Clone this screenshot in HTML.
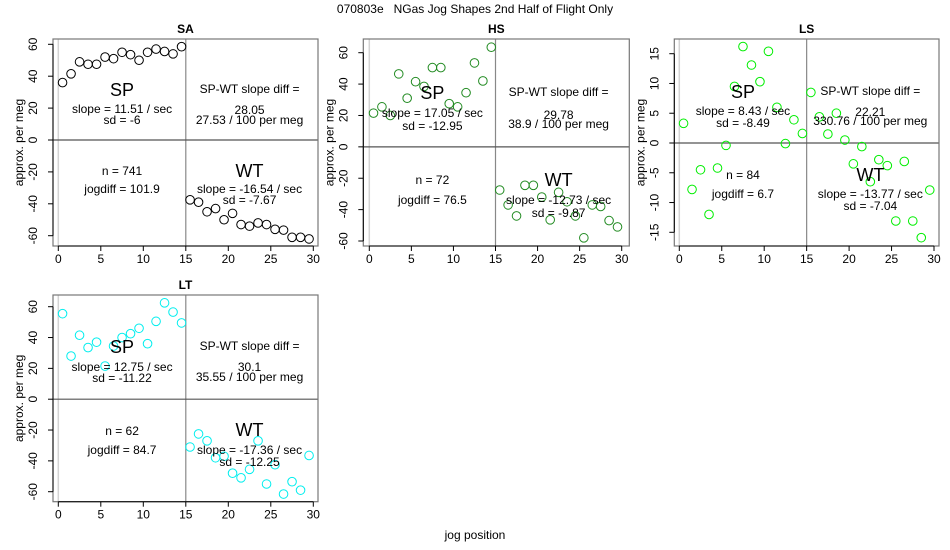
<!DOCTYPE html>
<html><head><meta charset="utf-8"><style>
html,body{margin:0;padding:0;background:#fff;}
svg{display:block;font-family:"Liberation Sans",Arial,sans-serif;}
</style></head><body>
<svg id="chart" width="950" height="550" viewBox="0 0 950 550" xmlns="http://www.w3.org/2000/svg">
<text x="475" y="13" text-anchor="middle" font-size="12" style="white-space:pre">070803e   NGas Jog Shapes 2nd Half of Flight Only</text>
<text x="475" y="539" text-anchor="middle" font-size="12">jog position</text>
</svg>
<script>
const positions = [0.5,1.5,2.5,3.5,4.5,5.5,6.5,7.5,8.5,9.5,10.5,11.5,12.5,13.5,14.5,15.5,16.5,17.5,18.5,19.5,20.5,21.5,22.5,23.5,24.5,25.5,26.5,27.5,28.5,29.5];
const saValues = [36,41.5,49,47.5,47.5,52,51,55,53.5,50,55,57,55.5,54,58.5,-37.5,-39,-45,-43,-50,-46,-53,-54,-52,-53,-56,-56.5,-61,-61,-62];
const hsValues = [21.5,25.5,20,46.5,31,41.5,38.5,50.5,50.5,27.5,25.5,34.5,53.5,42,63.5,-27.5,-37,-44,-24.5,-24.5,-32,-46.5,-29,-35,-44,-58,-37,-38,-47,-51];
const lsValues = [3.3,-7.8,-4.5,-12,-4.2,-0.4,9.5,16.2,13.1,10.3,15.4,6,-0.1,3.9,1.6,8.5,4.4,1.5,5,0.5,-3.5,-0.6,-6.5,-2.8,-3.8,-13.1,-3.1,-13.1,-15.9,-7.9];
const ltValues = [55.5,28,41.5,33.5,37,21.5,34.5,40,42.5,46,36,50.5,62.5,56.5,49.5,-31,-22.5,-27,-38,-37,-48,-51,-45.5,-27,-55,-42.5,-61.5,-53.5,-59,-36.5];
const xTicks = [0,5,10,15,20,25,30];
const bigTicks = [-60,-40,-20,0,20,40,60];
const lsTicks = [-15,-10,-5,0,5,10,15];
const saText = ["slope = 11.51 / sec","sd = -6","28.05","27.53 / 100 per meg","n = 741","jogdiff = 101.9","slope = -16.54 / sec","sd = -7.67"];
const hsText = ["slope = 17.05 / sec","sd = -12.95","29.78","38.9 / 100 per meg","n = 72","jogdiff = 76.5","slope = -12.73 / sec","sd = -9.87"];
const lsText = ["slope = 8.43 / sec","sd = -8.49","22.21","330.76 / 100 per meg","n = 84","jogdiff = 6.7","slope = -13.77 / sec","sd = -7.04"];
const ltText = ["slope = 12.75 / sec","sd = -11.22","30.1","35.55 / 100 per meg","n = 62","jogdiff = 84.7","slope = -17.36 / sec","sd = -12.25"];

const NS="http://www.w3.org/2000/svg";
const svg=document.getElementById('chart');
function mk(tag,attrs,parent){const e=document.createElementNS(NS,tag);for(const k in attrs)e.setAttribute(k,attrs[k]);(parent||svg).appendChild(e);return e;}

const panels=[
 {name:'sa',title:'SA',vals:saValues,txt:saText,color:'#000000',bx:53,bx2:318,by:39,by2:246,x0:58.3,x30:313.3,ticks:bigTicks,tv1:60,tp1:44.3,tv2:-60,tp2:235.7,
  ty:[90,109,120,89,110,120,171,189,171,189,200]},
 {name:'hs',title:'HS',vals:hsValues,txt:hsText,color:'#228B22',bx:363.3,bx2:629.3,by:39,by2:246,x0:369.3,x30:621.7,ticks:bigTicks,tv1:60,tp1:52.7,tv2:-60,tp2:241,
  ty:[93,113,126,92,115,124,180,200,180,200,213]},
 {name:'ls',title:'LS',vals:lsValues,txt:lsText,color:'#00EE00',bx:674.3,bx2:939,by:39,by2:246,x0:679.3,x30:934,ticks:lsTicks,tv1:15,tp1:53.7,tv2:-15,tp2:232.3,
  ty:[92,111,123,91,112,121,175,194,175,194,206]},
 {name:'lt',title:'LT',vals:ltValues,txt:ltText,color:'#00EEEE',bx:53,bx2:318,by:295,by2:501.7,x0:58.3,x30:313.3,ticks:bigTicks,tv1:60,tp1:306.7,tv2:-60,tp2:491.7,
  ty:[347,367,378,346,367,377,431,450,430,450,462]}
];

panels.forEach(p=>{
  const g=mk('g',{});
  
  
  const xs=v=>p.x0+(p.x30-p.x0)*v/30;
  const ys=v=>p.tp1+(p.tp2-p.tp1)*(v-p.tv1)/(p.tv2-p.tv1);
  const t=mk('text',{x:(p.bx+p.bx2)/2,y:p.by-6,'text-anchor':'middle','font-size':12,'font-weight':'bold'},g);
  t.textContent=p.title;
  
  
  mk('line',{x1:xs(0),x2:xs(0),y1:p.by,y2:p.by2,stroke:'#d3d3d3','stroke-width':1.5},g);
  mk('line',{x1:xs(15),x2:xs(15),y1:p.by,y2:p.by2,stroke:'#888','stroke-width':1.2},g);
  mk('line',{x1:p.bx,x2:p.bx2,y1:ys(0),y2:ys(0),stroke:'#555','stroke-width':1.2},g);
  mk('rect',{x:p.bx,y:p.by,width:p.bx2-p.bx,height:p.by2-p.by,fill:'none',stroke:'#777','stroke-width':1.2},g);
  mk('line',{x1:xs(0),x2:xs(30),y1:p.by2,y2:p.by2,stroke:'#000','stroke-width':1},g);
  xTicks.forEach(v=>{
    mk('line',{x1:xs(v),x2:xs(v),y1:p.by2,y2:p.by2+5,stroke:'#000'},g);
    const l=mk('text',{x:xs(v),y:p.by2+17,'text-anchor':'middle','font-size':12},g);
    l.textContent=v;
    
    
  });
  mk('line',{x1:p.bx,x2:p.bx,y1:ys(p.ticks[0]),y2:ys(p.ticks[p.ticks.length-1]),stroke:'#000'},g);
  p.ticks.forEach(v=>{
    mk('line',{x1:p.bx-5,x2:p.bx,y1:ys(v),y2:ys(v),stroke:'#000'},g);
    const lx=p.bx-16, ly=ys(v);
    const l=mk('text',{x:lx,y:ly,'text-anchor':'middle','font-size':12,transform:`rotate(-90 ${lx} ${ly})`},g);
    l.textContent=v;
    
    
  });
  const ay=(p.by+p.by2)/2, ax=p.bx-30;
  const yt=mk('text',{x:ax,y:ay,'text-anchor':'middle','font-size':12,transform:`rotate(-90 ${ax} ${ay})`},g);
  yt.textContent='approx. per meg';
  
  
  p.vals.forEach((v,i)=>{
    const c=mk('circle',{cx:xs(positions[i]),cy:ys(v),r:4.3,fill:'none',stroke:p.color,'stroke-width':1},g);
    
    
  });
  const L=xs(7.5), R=xs(22.5), ty=p.ty;
  const items=[
    ['SP',L,ty[0]+6,18],[p.txt[0],L,ty[1]+4,12],[p.txt[1],L,ty[2]+4,12],
    ['SP-WT slope diff =',R,ty[3]+4,12],[p.txt[2],R,ty[4]+4,12],[p.txt[3],R,ty[5]+4,12],
    [p.txt[4],L,ty[6]+4,12],[p.txt[5],L,ty[7]+4,12],
    ['WT',R,ty[8]+6,18],[p.txt[6],R,ty[9]+4,12],[p.txt[7],R,ty[10]+4,12]
  ];
  items.forEach(it=>{
    const e=mk('text',{x:it[1],y:it[2],'text-anchor':'middle','font-size':it[3]},g);
    e.textContent=it[0];
    
    
  });
});
</script>
</body></html>
